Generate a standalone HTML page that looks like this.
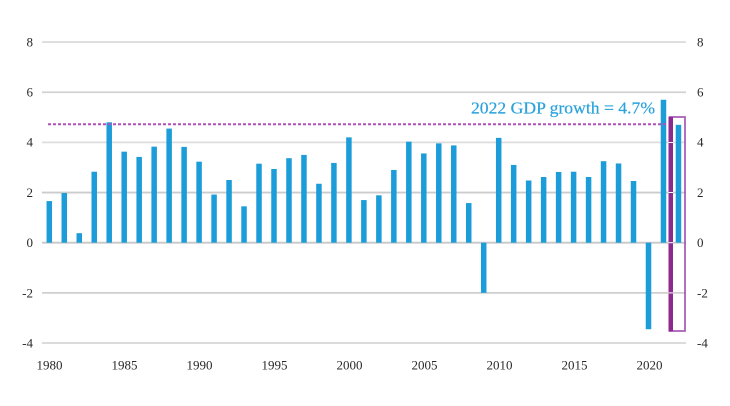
<!DOCTYPE html>
<html><head><meta charset="utf-8"><style>
html,body{margin:0;padding:0;background:#fff;width:730px;height:406px;overflow:hidden}
svg{display:block}
text{font-family:"Liberation Serif",serif}
</style></head><body>
<svg width="730" height="406" viewBox="0 0 730 406" xmlns="http://www.w3.org/2000/svg">
<rect width="730" height="406" fill="#fff"/>
<g stroke-width="1.8">
<line x1="42" y1="42.06" x2="686" y2="42.06" stroke="#dddddd"/>
<line x1="42" y1="92.22" x2="686" y2="92.22" stroke="#d2d2d2"/>
<line x1="42" y1="142.38" x2="686" y2="142.38" stroke="#dddddd"/>
<line x1="42" y1="192.54" x2="686" y2="192.54" stroke="#cccccc"/>
<line x1="42" y1="242.7" x2="686" y2="242.7" stroke="#c8c8c8"/>
<line x1="42" y1="292.86" x2="686" y2="292.86" stroke="#cfcfcf"/>
<line x1="42" y1="343.02" x2="686" y2="343.02" stroke="#d6d6d6"/>
</g>
<g fill="#2a2a2a" font-size="13" text-anchor="end" dominant-baseline="central">
<text x="33" y="42">8</text>
<text x="33" y="92">6</text>
<text x="33" y="142">4</text>
<text x="33" y="192.5">2</text>
<text x="33" y="242.7">0</text>
<text x="33" y="293">-2</text>
<text x="33" y="343">-4</text>
</g>
<g fill="#2a2a2a" font-size="13" text-anchor="start" dominant-baseline="central">
<text x="697" y="42">8</text>
<text x="697" y="92">6</text>
<text x="697" y="142">4</text>
<text x="697" y="192.5">2</text>
<text x="697" y="242.7">0</text>
<text x="697" y="293">-2</text>
<text x="697" y="343">-4</text>
</g>
<g fill="#2a2a2a" font-size="13" text-anchor="middle" dominant-baseline="central">
<text x="49.5" y="365">1980</text>
<text x="124.5" y="365">1985</text>
<text x="199.5" y="365">1990</text>
<text x="274.5" y="365">1995</text>
<text x="349.5" y="365">2000</text>
<text x="424.5" y="365">2005</text>
<text x="499.5" y="365">2010</text>
<text x="574.5" y="365">2015</text>
<text x="649.5" y="365">2020</text>
</g>
<g fill="#1c9dd9">
<rect x="46.55" y="201.07" width="5.5" height="41.63"/>
<rect x="61.53" y="193.04" width="5.5" height="49.66"/>
<rect x="76.51" y="233.17" width="5.5" height="9.53"/>
<rect x="91.49" y="171.72" width="5.5" height="70.98"/>
<rect x="106.47" y="122.32" width="5.5" height="120.38"/>
<rect x="121.45" y="151.66" width="5.5" height="91.04"/>
<rect x="136.43" y="156.93" width="5.5" height="85.77"/>
<rect x="151.41" y="146.64" width="5.5" height="96.06"/>
<rect x="166.39" y="128.59" width="5.5" height="114.11"/>
<rect x="181.37" y="146.89" width="5.5" height="95.81"/>
<rect x="196.35" y="161.69" width="5.5" height="81.01"/>
<rect x="211.33" y="194.55" width="5.5" height="48.15"/>
<rect x="226.31" y="180.0" width="5.5" height="62.7"/>
<rect x="241.29" y="206.33" width="5.5" height="36.37"/>
<rect x="256.27" y="163.7" width="5.5" height="79.0"/>
<rect x="271.25" y="168.96" width="5.5" height="73.74"/>
<rect x="286.23" y="158.18" width="5.5" height="84.52"/>
<rect x="301.21" y="154.92" width="5.5" height="87.78"/>
<rect x="316.19" y="183.76" width="5.5" height="58.94"/>
<rect x="331.17" y="162.95" width="5.5" height="79.75"/>
<rect x="346.15" y="137.36" width="5.5" height="105.34"/>
<rect x="361.13" y="200.06" width="5.5" height="42.64"/>
<rect x="376.11" y="195.3" width="5.5" height="47.4"/>
<rect x="391.09" y="169.97" width="5.5" height="72.73"/>
<rect x="406.07" y="141.63" width="5.5" height="101.07"/>
<rect x="421.05" y="153.42" width="5.5" height="89.28"/>
<rect x="436.03" y="143.38" width="5.5" height="99.32"/>
<rect x="451.01" y="145.39" width="5.5" height="97.31"/>
<rect x="465.99" y="203.07" width="5.5" height="39.63"/>
<rect x="480.97" y="242.7" width="5.5" height="50.16"/>
<rect x="495.95" y="137.87" width="5.5" height="104.83"/>
<rect x="510.93" y="164.95" width="5.5" height="77.75"/>
<rect x="525.91" y="180.5" width="5.5" height="62.2"/>
<rect x="540.89" y="176.99" width="5.5" height="65.71"/>
<rect x="555.87" y="171.97" width="5.5" height="70.73"/>
<rect x="570.85" y="171.72" width="5.5" height="70.98"/>
<rect x="585.83" y="176.99" width="5.5" height="65.71"/>
<rect x="600.81" y="161.19" width="5.5" height="81.51"/>
<rect x="615.79" y="163.45" width="5.5" height="79.25"/>
<rect x="630.77" y="181.0" width="5.5" height="61.7"/>
<rect x="645.75" y="242.7" width="5.5" height="86.53"/>
<rect x="660.73" y="99.74" width="5.5" height="142.96"/>
<rect x="675.71" y="124.82" width="5.5" height="117.88"/>
</g>
<line x1="48" y1="124.3" x2="668" y2="124.3" stroke="#b24fbb" stroke-width="2" stroke-dasharray="3 2"/>
<text x="471" y="113.5" font-size="17" fill="#2aa2dc" stroke="#2aa2dc" stroke-width="0.2" textLength="184" lengthAdjust="spacingAndGlyphs">2022 GDP growth = 4.7%</text>
<rect x="669.5" y="117" width="15.5" height="214" fill="none" stroke="#a24cb0" stroke-width="1.6"/>
<rect x="668.5" y="117" width="4.5" height="214.5" fill="#8c2a8f"/>
<g fill="#fff">
<rect x="668.5" y="142" width="4.5" height="1"/>
<rect x="668.5" y="192" width="4.5" height="1"/>
<rect x="668.5" y="242.2" width="4.5" height="1"/>
<rect x="668.5" y="292.4" width="4.5" height="1"/>
</g>
</svg>
</body></html>
